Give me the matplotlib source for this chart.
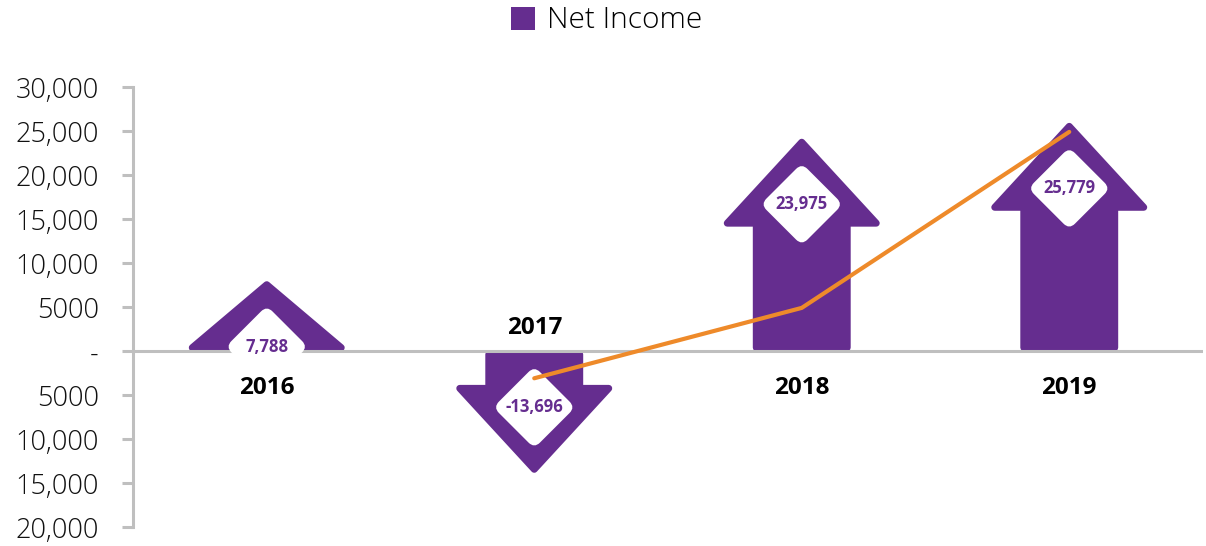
import numpy as np
import matplotlib
matplotlib.use('Agg')
import matplotlib.pyplot as plt
from matplotlib.patches import Polygon, FancyBboxPatch, Patch
from matplotlib.transforms import Affine2D, ScaledTranslation

plt.rcParams['font.family'] = ['Open Sans', 'DejaVu Sans']

years = ['2016', '2017', '2018', '2019']
net_income = [7788, -13696, 23975, 25779]
trend = [np.nan, -3100, 4900, 24900]
yticks = [30000, 25000, 20000, 15000, 10000, 5000, 0, -5000, -10000, -15000, -20000]
ytick_labels = ['30,000', '25,000', '20,000', '15,000', '10,000', '5000', '-',
                '5000', '10,000', '15,000', '20,000']

purple = '#652D8F'
orange = '#EE8A2A'
gray = '#BFBFBF'

fig = plt.figure(figsize=(12.06, 5.46), dpi=100)
ax = fig.add_axes([133/1206, 19/546, 1070/1206, 440/546])


def arrow_points(x, v, body_w=0.34, head_w=0.557, head_h=9200):
    s = np.sign(v)
    tip = v - s*250
    hh = min(head_h, abs(tip))
    base = tip - s*hh
    y0 = s*380  # keep rounded edge above the zero line
    if abs(base) < abs(y0):
        base = y0
    return [(x-body_w/2, y0), (x-body_w/2, base), (x-head_w/2, base), (x, tip),
            (x+head_w/2, base), (x+body_w/2, base), (x+body_w/2, y0)]


for i, v in enumerate(net_income):
    ax.add_patch(Polygon(arrow_points(i, v), closed=True, facecolor=purple,
                         edgecolor=purple, linewidth=5, joinstyle='round', zorder=2))

    # white rounded diamond holding the value
    ly = v - np.sign(v)*7300
    d = FancyBboxPatch((-29, -29), 58, 58, boxstyle='round,pad=0,rounding_size=8',
                       facecolor='white', edgecolor='none', zorder=4)
    d.set_transform(Affine2D().rotate_deg(45) + ScaledTranslation(i, ly, ax.transData))
    ax.add_patch(d)
    ax.text(i, ly, f'{v:,}', ha='center', va='center', color=purple,
            fontsize=12, fontweight='bold', zorder=6)

    if v >= 0:
        ax.annotate(years[i], (i, 0), xytext=(0, -27), textcoords='offset points',
                    ha='center', va='center', fontsize=17.5, fontweight='bold', zorder=6)
    else:
        ax.annotate(years[i], (i, 0), xytext=(0, 16.5), textcoords='offset points',
                    ha='center', va='center', fontsize=17.5, fontweight='bold', zorder=6)

ax.plot(range(len(years)), trend, color=orange, lw=3, solid_capstyle='round', zorder=5)
ax.axhline(0, color=gray, lw=2.2, zorder=3)

ax.set_xlim(-0.5, 3.5)
ax.set_ylim(-20000, 30000)
ax.set_yticks(yticks)
ax.set_yticklabels(ytick_labels, fontsize=19.5, color='#111111', fontweight='light')
ax.set_xticks([])
ax.tick_params(axis='y', length=8, width=2.2, color=gray, pad=16.5)
for s in ['top', 'right', 'bottom']:
    ax.spines[s].set_visible(False)
ax.spines['left'].set_color(gray)
ax.spines['left'].set_linewidth(2.2)

leg = fig.legend(handles=[Patch(facecolor=purple, label='Net Income')], loc='center',
                 bbox_to_anchor=(0.503, 0.962), frameon=False, fontsize=21.5,
                 handlelength=0.8, handleheight=0.8, handletextpad=0.4)
for t in leg.get_texts():
    t.set_fontweight('light')

fig.savefig('out.png', dpi=100)
